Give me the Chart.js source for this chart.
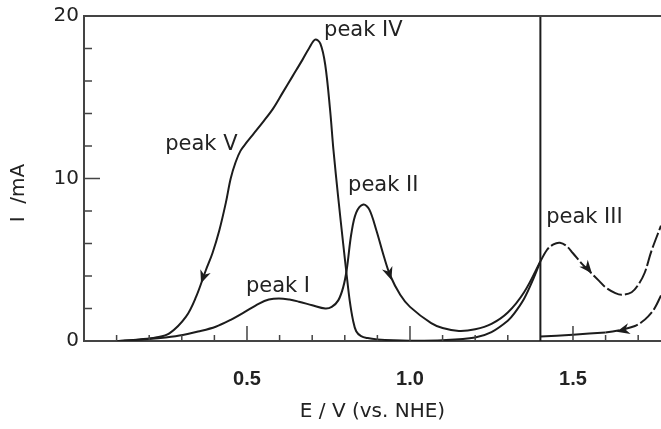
<!DOCTYPE html>
<html>
<head>
<meta charset="utf-8">
<script src="https://cdn.jsdelivr.net/npm/chart.js@4.4.1/dist/chart.umd.min.js"></script>
<style>
  html, body { margin: 0; padding: 0; background: #fff; }
  #wrap { width: 661px; height: 429px; }
</style>
</head>
<body>
<div id="wrap"><canvas id="myChart" width="661" height="429"></canvas></div>
<script>
// E / V (vs. NHE) and I / mA
// forward scan up to 1.4 V (solid)
const fwdE = [0.10, 0.15, 0.20, 0.25, 0.303, 0.35, 0.404, 0.45, 0.486, 0.537, 0.567, 0.598, 0.63, 0.659, 0.70, 0.74, 0.76, 0.78, 0.795, 0.806, 0.82, 0.835, 0.857, 0.875, 0.897, 0.92, 0.94, 0.97, 1.00, 1.065, 1.10, 1.15, 1.20, 1.25, 1.30, 1.35, 1.40];
const fwdI = [0.00, 0.05, 0.12, 0.22, 0.37, 0.58, 0.88, 1.30, 1.70, 2.30, 2.55, 2.62, 2.55, 2.42, 2.20, 2.00, 2.10, 2.50, 3.30, 4.40, 6.60, 7.90, 8.40, 8.10, 6.80, 5.20, 4.00, 2.85, 2.10, 1.10, 0.80, 0.62, 0.72, 1.05, 1.75, 3.00, 4.90];
// forward scan beyond 1.4 V (dashed)
const fwdHiE = [1.40, 1.42, 1.44, 1.46, 1.48, 1.50, 1.53, 1.55, 1.58, 1.60, 1.63, 1.65, 1.68, 1.70, 1.72, 1.74, 1.77];
const fwdHiI = [4.90, 5.60, 5.95, 6.05, 5.85, 5.40, 4.70, 4.30, 3.70, 3.30, 2.95, 2.85, 3.00, 3.45, 4.20, 5.50, 7.10];
// return scan from the upper limit (dashed, then solid)
const retHiE = [1.77, 1.75, 1.73, 1.71, 1.69, 1.66, 1.63, 1.60];
const retHiI = [2.80, 2.00, 1.50, 1.15, 0.92, 0.74, 0.62, 0.52];
const retLoE = [1.60, 1.50, 1.40];
const retLoI = [0.52, 0.39, 0.27];
// return scan from 1.4 V (solid)
const retE = [1.40, 1.38, 1.35, 1.32, 1.30, 1.25, 1.20, 1.10, 1.00, 0.95, 0.90, 0.87, 0.85, 0.835, 0.825, 0.815, 0.805, 0.795, 0.78, 0.765, 0.755, 0.74, 0.725, 0.709, 0.69, 0.67, 0.64, 0.61, 0.58, 0.55, 0.52, 0.50, 0.48, 0.465, 0.45, 0.435, 0.415, 0.394, 0.374, 0.344, 0.313, 0.262, 0.22, 0.17, 0.12, 0.10];
const retI = [4.90, 3.90, 2.60, 1.70, 1.25, 0.55, 0.22, 0.05, 0.02, 0.04, 0.10, 0.18, 0.30, 0.60, 1.30, 2.50, 4.20, 6.00, 8.80, 11.8, 14.2, 17.0, 18.3, 18.55, 18.0, 17.3, 16.3, 15.3, 14.3, 13.5, 12.75, 12.25, 11.7, 11.0, 10.0, 8.50, 6.80, 5.40, 4.37, 2.73, 1.50, 0.47, 0.22, 0.10, 0.02, 0.00];
// switching potential marker
const switchE = [1.4, 1.4];
const switchI = [0, 20];

// arrowheads (tip and a point behind it on the curve)
const arrowTipE = [0.359, 0.943, 1.558, 1.634];
const arrowTipI = [3.55, 3.75, 4.17, 0.57];
const arrowTailE = [0.374, 0.925, 1.540, 1.660];
const arrowTailI = [4.37, 4.80, 4.60, 0.70];

// peak labels
const peakNames = ['peak IV', 'peak V', 'peak II', 'peak I', 'peak III'];
const peakE = [0.857, 0.360, 0.918, 0.595, 1.535];
const peakI = [19.1, 12.1, 9.57, 3.38, 7.57];

// ticks
const xLabelTicks = [0.5, 1.0, 1.5];
const xMinorTicks = [0.1, 0.2, 0.3, 0.4, 0.6, 0.7, 0.8, 0.9, 1.1, 1.2, 1.3, 1.6, 1.7];
const yMajorTicks = [10];
const yMinorTicks = [2, 4, 6, 8, 12, 14, 16, 18];

const lineColor = '#1c1c1c';
const axisColor = '#444';
const textColor = '#222';

function pts(xs, ys) {
  return xs.map((v, i) => ({ x: v, y: ys[i] }));
}

function curve(xs, ys, dash) {
  return {
    data: pts(xs, ys),
    showLine: true,
    borderColor: lineColor,
    borderWidth: 2,
    borderDash: dash || [],
    pointRadius: 0,
    tension: 0.35,
    fill: false
  };
}

const extras = {
  id: 'extras',
  afterDatasetsDraw(chart) {
    const { ctx, chartArea: a, scales: { x, y } } = chart;
    ctx.save();
    ctx.strokeStyle = axisColor;
    ctx.lineWidth = 2;
    ctx.beginPath();
    ctx.moveTo(a.left - 1, a.top);
    ctx.lineTo(a.right, a.top);
    ctx.stroke();

    // inward tick marks
    ctx.lineWidth = 1.5;
    ctx.beginPath();
    xMinorTicks.forEach(v => {
      const px = x.getPixelForValue(v);
      ctx.moveTo(px, a.bottom); ctx.lineTo(px, a.bottom - 6);
    });
    xLabelTicks.forEach(v => {
      const px = x.getPixelForValue(v);
      ctx.moveTo(px, a.bottom); ctx.lineTo(px, a.bottom - 15);
    });
    yMinorTicks.forEach(v => {
      const py = y.getPixelForValue(v);
      ctx.moveTo(a.left, py); ctx.lineTo(a.left + 8, py);
    });
    yMajorTicks.forEach(v => {
      const py = y.getPixelForValue(v);
      ctx.moveTo(a.left, py); ctx.lineTo(a.left + 16, py);
    });
    ctx.stroke();

    // arrowheads
    ctx.fillStyle = lineColor;
    arrowTipE.forEach((e, i) => {
      const tx = x.getPixelForValue(e), ty = y.getPixelForValue(arrowTipI[i]);
      const bx = x.getPixelForValue(arrowTailE[i]), by = y.getPixelForValue(arrowTailI[i]);
      const len = Math.hypot(tx - bx, ty - by);
      const ux = (tx - bx) / len, uy = (ty - by) / len;
      const nx = -uy, ny = ux;
      const L = 13, W = 5.5;
      ctx.beginPath();
      ctx.moveTo(tx, ty);
      ctx.lineTo(tx - ux * L + nx * W, ty - uy * L + ny * W);
      ctx.lineTo(tx - ux * (L - 4), ty - uy * (L - 4));
      ctx.lineTo(tx - ux * L - nx * W, ty - uy * L - ny * W);
      ctx.closePath();
      ctx.fill();
    });

    // peak labels
    ctx.font = '21px "DejaVu Sans"';
    ctx.fillStyle = textColor;
    ctx.textAlign = 'center';
    ctx.textBaseline = 'middle';
    peakNames.forEach((t, i) => {
      ctx.fillText(t, x.getPixelForValue(peakE[i]), y.getPixelForValue(peakI[i]));
    });

    // y axis title, sits a little below the middle of the axis
    ctx.font = '20px "DejaVu Sans"';
    ctx.translate(a.left - 65, a.top + 177);
    ctx.rotate(-Math.PI / 2);
    ctx.fillText('I  /mA', 0, 0);
    ctx.restore();
  }
};

window.onload = function() {
  const ctx = document.getElementById('myChart').getContext('2d');
  new Chart(ctx, {
    type: 'scatter',
    data: {
      datasets: [
        curve(fwdE, fwdI),
        curve(fwdHiE, fwdHiI, [16, 3]),
        curve(retHiE, retHiI, [16, 3]),
        curve(retLoE, retLoI),
        curve(retE, retI),
        Object.assign(curve(switchE, switchI), { tension: 0 })
      ]
    },
    options: {
      responsive: false,
      animation: false,
      events: [],
      layout: { padding: { top: 16, left: 7, right: 0, bottom: 5 } },
      plugins: {
        legend: { display: false },
        tooltip: { enabled: false }
      },
      scales: {
        x: {
          type: 'linear',
          min: 0,
          max: 1.77,
          afterFit: s => { s.height = 83; s.paddingLeft = 0; s.paddingRight = 0; },
          grid: { display: false, drawTicks: false },
          border: { display: true, color: axisColor, width: 2 },
          ticks: {
            stepSize: 0.5,
            padding: 26,
            maxRotation: 0,
            color: textColor,
            font: { family: 'Liberation Sans', size: 20, weight: 'bold' },
            callback: v => xLabelTicks.some(t => Math.abs(t - v) < 1e-6) ? v.toFixed(1) : ''
          },
          title: {
            display: true,
            text: 'E / V (vs. NHE)',
            color: textColor,
            font: { family: 'DejaVu Sans', size: 20 },
            padding: { top: 0, bottom: 0 }
          }
        },
        y: {
          type: 'linear',
          min: 0,
          max: 20,
          afterFit: s => { s.width = 77; s.paddingTop = 0; s.paddingBottom = 0; },
          grid: { display: false, drawTicks: false },
          border: { display: true, color: axisColor, width: 2 },
          ticks: {
            stepSize: 10,
            padding: 5,
            color: textColor,
            font: { family: 'DejaVu Sans', size: 20 }
          },
          title: { display: false }
        }
      }
    },
    plugins: [extras]
  });
};
</script>
</body>
</html>
